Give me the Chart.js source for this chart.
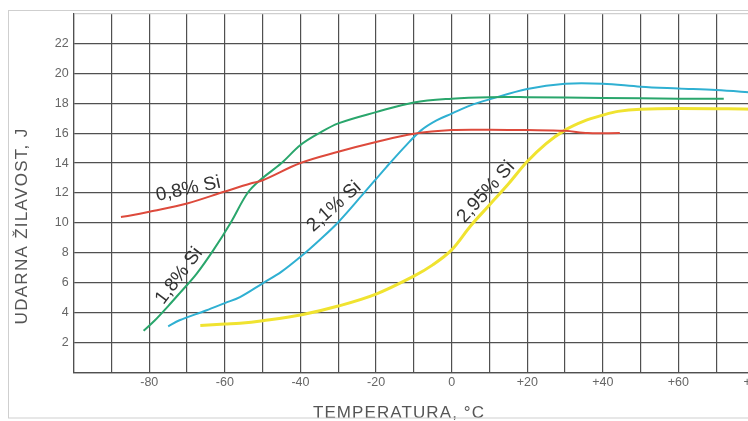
<!DOCTYPE html>
<html>
<head>
<meta charset="utf-8">
<script src="https://cdn.jsdelivr.net/npm/chart.js@4.4.1/dist/chart.umd.min.js"></script>
<style>
html,body{margin:0;padding:0;overflow:hidden;background:#fff;width:748px;height:421px}
#wrap{position:absolute;left:0;top:0;width:770px;height:421px}
</style>
</head>
<body>
<div id="wrap"><canvas id="c"></canvas></div>
<script>
// Temperatures (°C) and impact toughness (J)
const redX = [-87.5,-85,-80,-70,-60,-53,-50,-40,-30,-20,-10,0,10,20,30,36,44.5];
const redY = [10.4,10.5,10.75,11.3,12.1,12.65,12.85,14.0,14.75,15.4,15.95,16.2,16.22,16.2,16.15,16.0,16.0];

const greenX = [-81.5,-78.5,-75,-72,-67.5,-63,-58.5,-54,-50.5,-45,-40,-35,-30,-20,-10,0,10,20,40,60,72];
const greenY = [2.8,3.5,4.45,5.3,6.6,8.2,10.0,12.0,12.9,14.0,15.2,16.0,16.65,17.4,18.05,18.3,18.4,18.4,18.35,18.3,18.3];

const cyanX = [-75,-72,-65,-60,-56,-50,-45,-40,-35,-30,-23.3,-17.2,-12,-8,-4,0,5,10,20,30,40,50,60,70,80];
const cyanY = [3.1,3.5,4.15,4.65,5.05,5.97,6.75,7.74,8.85,10.05,11.97,13.75,15.2,16.2,16.85,17.3,17.85,18.25,18.95,19.3,19.3,19.1,18.98,18.87,18.7];

const yellowX = [-66.5,-60,-56,-50,-40,-30,-20,-10,-5,0,5,10,15,20,25,30,35,40,44,50,60,80];
const yellowY = [3.15,3.25,3.3,3.47,3.85,4.45,5.25,6.45,7.2,8.2,9.8,11.2,12.6,14.1,15.3,16.2,16.8,17.2,17.45,17.6,17.65,17.6];

const seriesNames = ['0,8% Si','1,8% Si','2,1% Si','2,95% Si'];
const seriesColors = ['#dd4a3c','#2aa66c','#2fb0d2','#f0e330'];

// curve label anchors (data coords) and angles
const labelX = [-69.7,-72.1,-31.1,9.1];
const labelY = [12.26,6.46,11.08,12.06];
const labelAngle = [-12,-53,-42,-48];

const xTitle = 'TEMPERATURA, °C';
const yTitle = 'UDARNA ŽILAVOST, J';

function pts(xs, ys){ return xs.map((x,i)=>({x:x,y:ys[i]})); }

const FONT = "'Liberation Sans', Arial, sans-serif";

const annot = {
  id:'annot',
  beforeDraw(chart){
    const c = chart.ctx;
    c.save();
    c.fillStyle='#fff';
    c.fillRect(0,0,chart.width,chart.height);
    c.restore();
  },
  afterDatasetsDraw(chart){
    const c = chart.ctx, xs = chart.scales.x, ys = chart.scales.y;
    c.save();
    c.fillStyle = '#333';
    c.font = '19px ' + FONT;
    c.textAlign='center'; c.textBaseline='middle';
    for(let i=0;i<seriesNames.length;i++){
      c.save();
      c.translate(xs.getPixelForValue(labelX[i]), ys.getPixelForValue(labelY[i]));
      c.rotate(labelAngle[i]*Math.PI/180);
      c.fillText(seriesNames[i],0,0);
      c.restore();
    }
    c.restore();
  },
  afterDraw(chart){
    const c = chart.ctx;
    c.save();
    c.fillStyle='#555';
    c.font = '17px ' + FONT;
    c.textAlign='center'; c.textBaseline='alphabetic';
    c.letterSpacing = '1.1px';
    c.fillText(xTitle, 399, 418);
    c.letterSpacing = '1.3px';
    c.translate(27, 226);
    c.rotate(-Math.PI/2);
    c.fillText(yTitle, 0, 0);
    c.restore();
    c.save();
    c.strokeStyle='#cfcfcf'; c.lineWidth=1;
    c.strokeRect(8.5,10.5,chart.width,407.5);
    c.restore();
  }
};

const datasets = [
  [redX,redY],[greenX,greenY],[cyanX,cyanY],[yellowX,yellowY]
].map((d,i)=>({
  label: seriesNames[i],
  data: pts(d[0],d[1]),
  borderColor: seriesColors[i],
  backgroundColor: seriesColors[i],
  borderWidth: i===3 ? 3 : 2,
  pointRadius: 0,
  tension: 0.35,
  fill:false
}));

new Chart(document.getElementById('c'), {
  type:'line',
  data:{datasets},
  options:{
    responsive:true,
    maintainAspectRatio:false,
    animation:false,
    devicePixelRatio:1,
    layout:{padding:{left:0,right:16,top:13.3,bottom:0}},
    plugins:{legend:{display:false},tooltip:{enabled:false}},
    scales:{
      x:{
        type:'linear', min:-100, max:80,
        afterFit(s){ s.height = 48.3; },
        grid:{color:'#505050', lineWidth:1.2, drawTicks:false},
        border:{color:'#505050', width:1.2},
        ticks:{
          stepSize:10, padding:2, color:'#666', maxRotation:0, autoSkip:false,
          font:{family:FONT,size:12.5},
          callback:(v)=> (v%20===0 && v!==-100) ? (v>0?'+'+v:String(v)) : ''
        }
      },
      y:{
        type:'linear', min:0, max:24,
        afterFit(s){ s.width = 73.7; },
        grid:{color:(ctx)=> ctx.tick && ctx.tick.value===24 ? '#cfcfcf' : '#505050', lineWidth:1.2, drawTicks:false},
        border:{color:'#505050', width:1.2},
        ticks:{
          stepSize:2, padding:5, color:'#666',
          font:{family:FONT,size:12.5},
          callback:(v)=> (v===0||v===24) ? '' : String(v)
        }
      }
    }
  },
  plugins:[annot]
});
</script>
</body>
</html>
